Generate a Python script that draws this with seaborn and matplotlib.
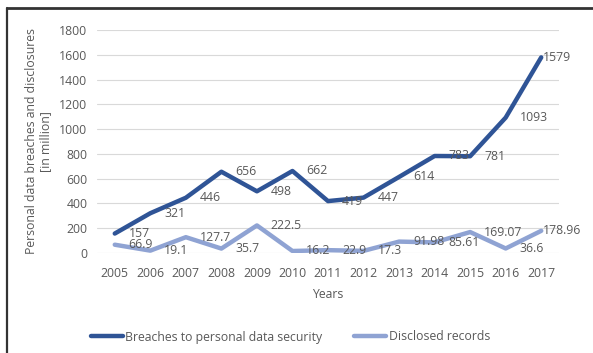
import matplotlib
matplotlib.use("Agg")
import matplotlib.pyplot as plt
import seaborn as sns
import pandas as pd
from matplotlib.lines import Line2D

years = ["2005", "2006", "2007", "2008", "2009", "2010", "2011", "2012",
         "2013", "2014", "2015", "2016", "2017"]
breaches = [157, 321, 446, 656, 498, 662, 419, 447, 614, 783, 781, 1093, 1579]
disclosed = [66.9, 19.1, 127.7, 35.7, 222.5, 16.2, 22.9, 17.3, 91.98, 85.61, 169.07, 36.6, 178.96]
breach_labels = ["157", "321", "446", "656", "498", "662", "419", "447", "614", "783", "781", "1093", "1579"]
disc_labels = ["66.9", "19.1", "127.7", "35.7", "222.5", "16.2", "22.9", "17.3", "91.98", "85.61", "169.07", "36.6", "178.96"]
series_names = ["Breaches to personal data security", "Disclosed records"]
yticks = [0, 200, 400, 600, 800, 1000, 1200, 1400, 1600, 1800]

dark = "#2F5496"
light = "#8FA3D3"
txt = "#595959"

sns.set_theme(style="white")
plt.rcParams['font.family'] = ['Open Sans', 'DejaVu Sans']

df = pd.DataFrame({
    "year": years * 2,
    "value": breaches + disclosed,
    "series": [series_names[0]] * len(years) + [series_names[1]] * len(years),
})
df["x"] = list(range(len(years))) * 2

fig = plt.figure(figsize=(5.93, 3.53), dpi=100)
ax = fig.add_axes([97/593, 1 - 253/353, (559-97)/593, (253-30)/353])

sns.lineplot(data=df, x="x", y="value", hue="series",
             palette={series_names[0]: dark, series_names[1]: light},
             linewidth=3.2, ax=ax, legend=False, sort=False)

ax.set_xlim(-0.5, len(years) - 0.5)
ax.set_ylim(0, 1800)
ax.set_yticks(yticks)
ax.set_yticklabels([str(t) for t in yticks])
ax.set_xticks(range(len(years)))
ax.set_xticklabels(years)
ax.tick_params(axis="both", length=0, labelsize=8.8, labelcolor=txt)
ax.tick_params(axis="x", pad=10)
ax.tick_params(axis="y", pad=7)
ax.grid(axis="y", color="#D9D9D9", linewidth=0.8)
ax.grid(axis="x", visible=False)
for s in ax.spines.values():
    s.set_visible(False)

n = len(years)
for i, (v, lab) in enumerate(zip(breaches, breach_labels)):
    off = 1.5 if i == n - 1 else 10
    ax.annotate(lab, (i, v), xytext=(off, 0), textcoords="offset points",
                ha="left", va="center", fontsize=8.8, color=txt)
for i, (v, lab) in enumerate(zip(disclosed, disc_labels)):
    off = 1.5 if i == n - 1 else 10
    ax.annotate(lab, (i, v), xytext=(off, 0), textcoords="offset points",
                ha="left", va="center", fontsize=8.8, color=txt)

ax.set_xlabel("Years", fontsize=8.8, color=txt, labelpad=6)
ax.set_ylabel("Personal data breaches and disclosures\n[in million]",
              fontsize=8.8, color=txt, labelpad=5, linespacing=1.1)

handles = [Line2D([], [], color=dark, linewidth=3.2),
           Line2D([], [], color=light, linewidth=3.2)]
fig.legend(handles, series_names, loc="center", bbox_to_anchor=(0.49, 1 - 337/353),
           ncol=2, frameon=False, fontsize=8.8, labelcolor=txt,
           handlelength=2.6, handletextpad=0.2, columnspacing=2.6)

# outer frame (top and left edges visible)
fig.add_artist(Line2D([7/593, 1.0], [1 - 8/353, 1 - 8/353], color="#333333",
                      linewidth=2.0, transform=fig.transFigure))
fig.add_artist(Line2D([7/593, 7/593], [0.0, 1 - 8/353], color="#333333",
                      linewidth=1.6, transform=fig.transFigure))

fig.savefig("out.png", dpi=100)
